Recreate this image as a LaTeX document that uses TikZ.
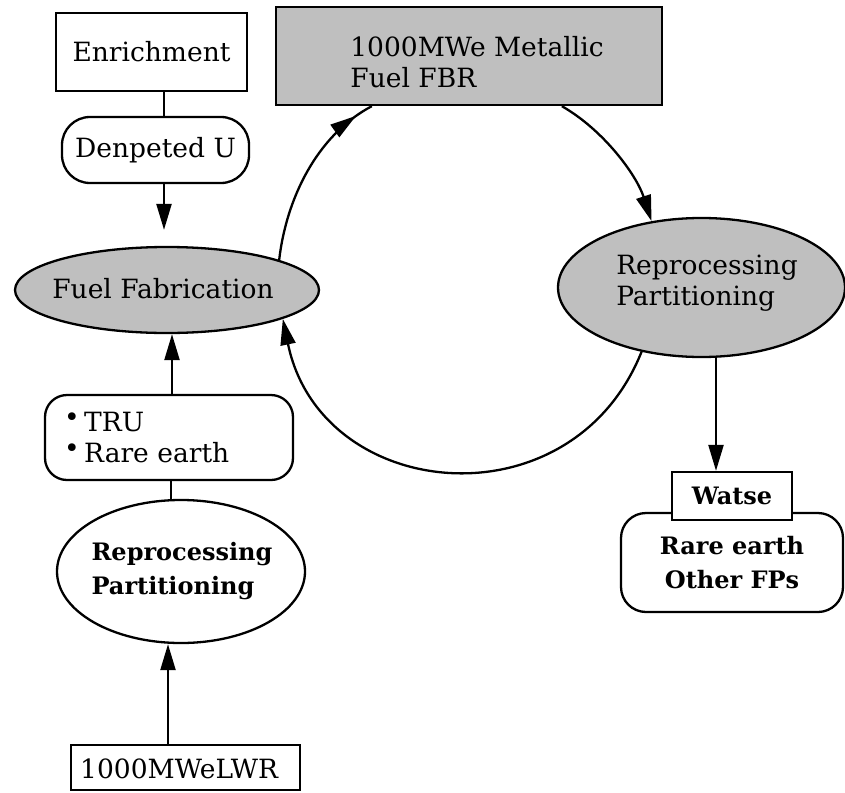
\documentclass[tikz,border=0pt]{standalone}
\usepackage{fontspec}
\setmainfont{DejaVu Serif}
\usetikzlibrary{shapes.geometric,arrows.meta,decorations.markings}
\begin{document}
\begin{tikzpicture}[x=1pt,y=-1pt,
  box/.style={draw, line width=2.3pt, inner sep=0pt},
  rbox/.style={box},
  ell/.style={draw, ellipse, line width=2.3pt, inner sep=0pt},
  shade/.style={fill=black!25},
  txt/.style={font=\fontsize{26.5}{31}\selectfont, align=center, inner sep=0pt},
  btxt/.style={font=\bfseries\fontsize{24}{34}\selectfont, align=center, inner sep=0pt},
  con/.style={line width=2.3pt},
  arr/.style={line width=2.3pt, -{Triangle[length=26pt,width=15pt]}},
  midarrow/.style={postaction={decorate}, decoration={markings, mark=at position 0.9 with {\arrow{Triangle[length=26pt,width=15pt]}}}}
]
\useasboundingbox (0,0) rectangle (845,792);
\coordinate (ax) at (164,0);
\coordinate (bx) at (172,0);
\coordinate (cx) at (171,0);
\coordinate (dx) at (168,0);
\coordinate (ex) at (716,0);

\node[box, txt, minimum width=191pt, minimum height=78pt] (enr) at (151.5,52) {Enrichment};
\node[rbox, txt, rounded corners=28pt, minimum width=187pt, minimum height=66pt] (dep) at (155.5,150) {Denpeted U};

\node[ell, shade, minimum width=304pt, minimum height=86pt] (fab) at (167,290) {};
\node[txt] (fabt) at (163,289) {Fuel Fabrication};

\node[box, shade, minimum width=386pt, minimum height=98pt] (fbr) at (469,56) {};
\node[txt, align=left] (fbrt) at (477,62) {1000MWe Metallic\\Fuel FBR};

\node[ell, shade, minimum width=287pt, minimum height=139pt] (rep2) at (701.5,287.5) {};
\node[txt, align=left] (rep2t) at (707,283) {Reprocessing\\Partitioning};

\node[rbox, rounded corners=22pt, minimum width=248pt, minimum height=85pt] (tru) at (169,437.5) {};
\node[txt, align=left, anchor=west] (trut) at (64,438) {\raisebox{5pt}{\textbullet}\,TRU\\\raisebox{5pt}{\textbullet}\,Rare earth};

\node[ell, minimum width=248pt, minimum height=143pt] (rep1) at (181,571.5) {};
\node[btxt, align=left] (rep1t) at (182,571) {Reprocessing\\Partitioning};

\node[box, minimum width=229pt, minimum height=45pt] (lwr) at (185.5,767.5) {};
\node[txt, anchor=west] (lwrt) at (80,769) {1000MWeLWR};

\node[rbox, btxt, rounded corners=25pt, minimum width=222pt, minimum height=99pt] (waste) at (732,562.5) {Rare earth\\Other FPs};
\node[box, btxt, fill=white, minimum width=120pt, minimum height=48pt] (watse) at (732,496) {Watse};

\draw[con] (enr.south -| ax) -- (dep.north -| ax);
\draw[arr, shorten >=16pt] (dep.south -| ax) -- (fab.north -| ax);
\draw[arr] (tru.north -| bx) -- (fab.south -| bx);
\draw[con] (rep1.north -| cx) -- (tru.south -| cx);
\draw[arr] (lwr.north -| dx) -- (rep1.south -| dx);
\draw[arr] (rep2.south -| ex) -- (watse.north -| ex);

\draw[con, midarrow] (fab.15) .. controls +(7,-61) and +(-55,29) .. ([xshift=97pt]fbr.south west);
\draw[arr] ([xshift=287pt]fbr.south west) .. controls +(42,24) and +(-15,-46) .. (rep2.127);
\draw[arr] (rep2.227) .. controls +(-70,175) and +(38,184) .. (fab.-14);
\end{tikzpicture}
\end{document}
